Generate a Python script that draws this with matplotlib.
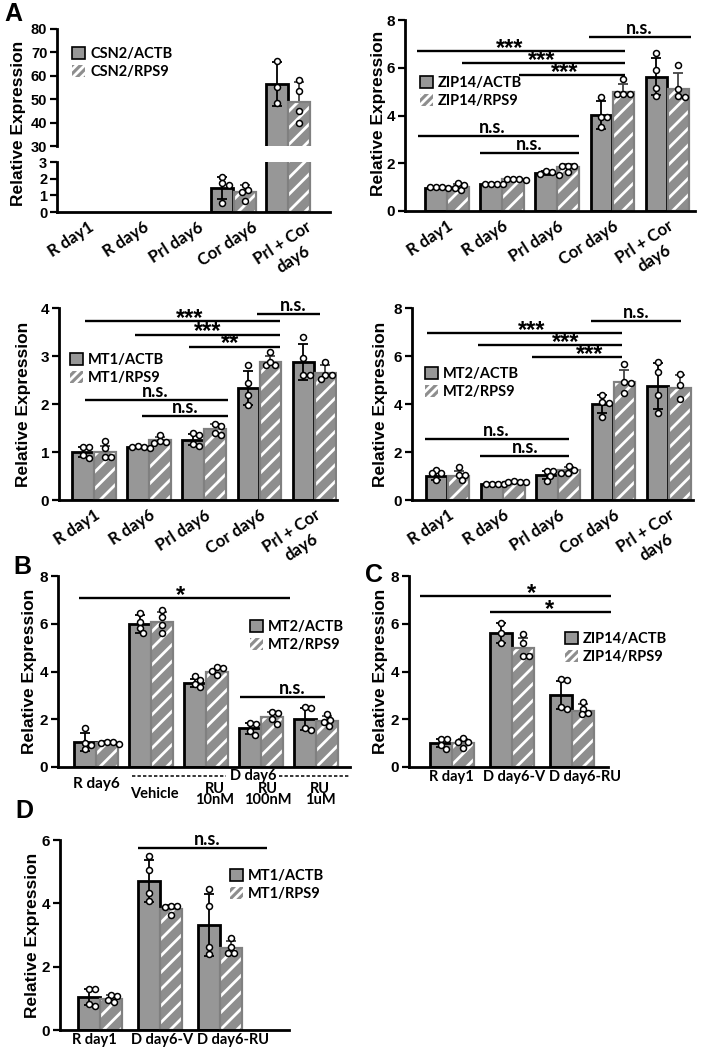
import numpy as np
import matplotlib
matplotlib.use("Agg")
import matplotlib.pyplot as plt
from matplotlib.patches import Patch
from matplotlib.transforms import ScaledTranslation

# ======================= DATA =======================
A_categories = ["R day1", "R day6", "Prl day6", "Cor day6", "Prl + Cor\nday6"]

# Panel A1: CSN2
csn2_actb_mean = [0.0, 0.0, 0.0, 1.44, 56.5]
csn2_actb_sd = [0.0, 0.0, 0.0, 0.64, 9.3]
csn2_actb_pts = [[], [], [], [2.10, 1.74, 1.62, 0.55], [66.4, 55.3, 48.2]]
csn2_rps9_mean = [0.0, 0.0, 0.0, 1.20, 49.0]
csn2_rps9_sd = [0.0, 0.0, 0.0, 0.45, 8.5]
csn2_rps9_pts = [[], [], [], [1.62, 1.32, 1.20, 0.66], [58.2, 53.6, 45.1, 39.7]]

# Panel A2: ZIP14
zip14_actb_mean = [0.98, 1.13, 1.58, 4.02, 5.62]
zip14_actb_sd = [0.03, 0.03, 0.08, 0.58, 0.77]
zip14_actb_pts = [[1.00, 0.98, 1.00, 0.99], [1.14, 1.12, 1.13, 1.15],
                  [1.68, 1.56, 1.62, 1.50], [4.78, 3.95, 3.95, 3.53],
                  [6.60, 5.90, 5.17, 4.81]]
zip14_rps9_mean = [1.00, 1.32, 1.84, 4.99, 5.13]
zip14_rps9_sd = [0.13, 0.04, 0.12, 0.32, 0.67]
zip14_rps9_pts = [[0.88, 1.09, 1.19, 0.98], [1.28, 1.33, 1.35, 1.36],
                  [1.90, 1.90, 1.90, 1.65], [5.51, 4.90, 4.90, 4.92],
                  [6.11, 5.09, 4.81, 4.76]]

# Panel A3: MT1
mt1_actb_mean = [1.00, 1.10, 1.26, 2.33, 2.88]
mt1_actb_sd = [0.10, 0.02, 0.12, 0.35, 0.37]
mt1_actb_pts = [[1.10, 1.10, 0.93, 0.88], [1.11, 1.12, 1.10, 1.09],
                [1.39, 1.36, 1.17, 1.12], [2.81, 2.43, 2.19, 1.98],
                [3.40, 2.95, 2.60, 2.60]]
mt1_rps9_mean = [1.00, 1.24, 1.47, 2.87, 2.64]
mt1_rps9_sd = [0.13, 0.08, 0.11, 0.12, 0.17]
mt1_rps9_pts = [[1.22, 1.08, 0.89, 0.89], [1.35, 1.22, 1.20, 1.18],
                [1.58, 1.55, 1.40, 1.35], [3.09, 2.81, 2.81, 2.88],
                [2.88, 2.60, 2.60, 2.53]]

# Panel A4: MT2
mt2_actb_mean = [1.00, 0.67, 1.05, 3.99, 4.76]
mt2_actb_sd = [0.17, 0.02, 0.16, 0.38, 0.95]
mt2_actb_pts = [[1.25, 1.11, 1.11, 0.83], [0.68, 0.67, 0.66, 0.67],
                [1.22, 1.20, 1.00, 0.80], [4.38, 4.10, 4.03, 3.47],
                [5.76, 5.35, 4.38, 3.61]]
mt2_rps9_mean = [1.00, 0.76, 1.25, 4.93, 4.65]
mt2_rps9_sd = [0.20, 0.04, 0.13, 0.50, 0.55]
mt2_rps9_pts = [[1.36, 1.04, 1.04, 0.83], [0.74, 0.76, 0.78, 0.77],
                [1.42, 1.25, 1.14, 1.11], [5.67, 4.93, 4.86, 4.47],
                [5.24, 4.79, 4.19]]

# Panel B: MT2 with RU486
B_categories = ["R day6", "Vehicle", "RU\n10nM", "RU\n100nM", "RU\n1uM"]
B_group_label = "D day6"
b_actb_mean = [1.06, 5.98, 3.53, 1.62, 2.01]
b_actb_sd = [0.38, 0.38, 0.17, 0.22, 0.45]
b_actb_pts = [[1.62, 0.99, 0.92, 0.74], [6.47, 6.09, 5.81, 5.60],
              [3.81, 3.65, 3.48, 3.34], [1.85, 1.80, 1.50, 1.33],
              [2.49, 2.50, 1.55, 1.62]]
b_rps9_mean = [1.02, 6.09, 3.99, 2.08, 1.93]
b_rps9_sd = [0.05, 0.40, 0.13, 0.22, 0.22]
b_rps9_pts = [[0.97, 1.04, 1.03, 1.02], [6.58, 6.27, 5.95, 5.63],
              [4.20, 4.13, 4.04, 3.85], [2.30, 2.25, 2.00, 1.80],
              [2.20, 1.98, 1.90, 1.72]]

# Panel C: ZIP14
CD_categories = ["R day1", "D day6-V", "D day6-RU"]
c_actb_mean = [0.99, 5.63, 3.02]
c_actb_sd = [0.17, 0.42, 0.60]
c_actb_pts = [[1.16, 1.16, 0.92, 0.74], [6.05, 5.60, 5.21], [3.70, 3.65, 2.50, 2.45]]
c_rps9_mean = [0.99, 4.97, 2.36]
c_rps9_sd = [0.17, 0.45, 0.28]
c_rps9_pts = [[1.23, 1.06, 1.06, 0.78], [5.57, 5.21, 4.65, 4.65], [2.72, 2.45, 2.28, 2.20]]

# Panel D: MT1
d_actb_mean = [1.03, 4.71, 3.32]
d_actb_sd = [0.25, 0.66, 0.98]
d_actb_pts = [[1.28, 1.28, 0.76, 0.82], [5.49, 5.05, 4.32, 4.08], [4.44, 3.92, 2.63, 2.40]]
d_rps9_mean = [0.98, 3.81, 2.58]
d_rps9_sd = [0.12, 0.13, 0.22]
d_rps9_pts = [[1.12, 1.08, 0.95, 0.88], [3.92, 3.92, 3.89, 3.63], [2.89, 2.61, 2.44, 2.44]]

# significance brackets: (x start, x end, y, label, text x)
sig_A2 = [(2.58, 4.43, 7.28, "n.s.", 3.48), (-0.54, 3.23, 6.69, "***", 1.14),
          (0.27, 3.23, 6.19, "***", 1.72), (1.31, 3.23, 5.69, "***", 2.14),
          (-0.53, 2.40, 3.14, "n.s.", 0.82), (0.60, 2.40, 2.43, "n.s.", 1.49)]
sig_A3 = [(2.96, 4.10, 3.875, "n.s.", 3.61), (-0.16, 3.38, 3.73, "***", 1.74),
          (0.74, 3.38, 3.44, "***", 2.07), (1.72, 3.38, 3.19, "**", 2.47),
          (-0.16, 2.43, 2.08, "n.s.", 1.11), (0.87, 2.43, 1.75, "n.s.", 1.65)]
sig_A4 = [(2.59, 4.22, 7.46, "n.s.", 3.41), (-0.37, 3.15, 6.96, "***", 1.53),
          (0.55, 3.15, 6.46, "***", 2.13), (1.53, 3.15, 5.96, "***", 2.57),
          (-0.41, 2.20, 2.54, "n.s.", 0.88), (0.59, 2.20, 1.83, "n.s.", 1.41)]
sig_B = [(-0.31, 3.53, 7.07, "*", 1.53), (2.62, 4.16, 2.93, "n.s.", 3.56)]
sig_C = [(-0.53, 2.65, 7.15, "*", 1.33), (0.63, 2.65, 6.49, "*", 1.63)]
sig_D = [(0.63, 2.78, 5.75, "n.s.", 1.78)]

# ======================= STYLE =======================
plt.rcParams['font.family'] = ['Liberation Sans', 'DejaVu Sans']
plt.rcParams['font.weight'] = 'bold'
plt.rcParams['hatch.linewidth'] = 2.0
ACTB_FACE = '#979797'
RPS9_FACE = '#8e8e8e'
RPS9_EDGE = '#808080'
LAT = ['Lato', 'DejaVu Sans']

W, H = 704, 1050
fig = plt.figure(figsize=(W / 100, H / 100), dpi=100)
fig.patch.set_facecolor('white')


def px_axes(left, right, top, bottom):
    return fig.add_axes([left / W, 1 - bottom / H, (right - left) / W, (bottom - top) / H])


def style_axes(ax, xlim, ylim, yticks, show_bottom=True, ysize=11):
    ax.set_xlim(*xlim)
    ax.set_ylim(*ylim)
    ax.set_yticks(yticks)
    ax.spines['top'].set_visible(False)
    ax.spines['right'].set_visible(False)
    ax.spines['left'].set_linewidth(2.0)
    ax.spines['bottom'].set_linewidth(2.0)
    if not show_bottom:
        ax.spines['bottom'].set_visible(False)
    ax.tick_params(axis='y', direction='out', length=5, width=1.6, pad=2, labelsize=ysize)
    ax.tick_params(axis='x', length=0)
    ax.patch.set_alpha(0)


def swarm_x(ax, xc, vals, diam=6.2):
    if len(vals) == 0:
        return []
    tr = ax.transData
    xp = tr.transform((xc, 0))[0]
    ys = [tr.transform((xc, v))[1] for v in vals]
    cands = sorted(np.arange(-4, 4.01, 0.25) * diam, key=lambda c: (abs(c), -c))
    placed = []
    res = [0.0] * len(vals)
    for i in sorted(range(len(vals)), key=lambda k: -vals[k]):
        for c in cands:
            if all((c - a) ** 2 + (ys[i] - b) ** 2 >= (0.92 * diam) ** 2 for a, b in placed):
                placed.append((c, ys[i]))
                res[i] = c
                break
    inv = tr.inverted()
    return [inv.transform((xp + r, 0))[0] for r in res]


def draw_series(ax, centers, off, width, means, sds, pts, kind):
    for i, (m, sd, p) in enumerate(zip(means, sds, pts)):
        if m <= 0:
            continue
        x = centers[i] + off
        if kind == 'actb':
            ax.bar(x, m, width, color=ACTB_FACE, edgecolor='black', linewidth=2.0, zorder=2)
            ax.errorbar(x, m, yerr=sd, fmt='none', ecolor='black', elinewidth=1.3,
                        capsize=3.6, capthick=1.3, zorder=3)
        else:
            ax.errorbar(x, m, yerr=sd, fmt='none', ecolor='#444444', elinewidth=1.3,
                        capsize=3.6, capthick=1.3, zorder=1.5)
            ax.bar(x, m, width, color=RPS9_FACE, edgecolor='white', linewidth=0, hatch='//', zorder=2)
            ax.bar(x, m, width, color='none', edgecolor=RPS9_EDGE, linewidth=1.6, zorder=2.1)
        xs = swarm_x(ax, x, p)
        ax.plot(xs, p, linestyle='none', marker='o', markersize=4.3, markerfacecolor='white',
                markeredgecolor='black', markeredgewidth=1.1, zorder=5)


def draw_group(ax, cats_n, width, off, a_mean, a_sd, a_pts, r_mean, r_sd, r_pts):
    centers = np.arange(cats_n)
    draw_series(ax, centers, -off, width, a_mean, a_sd, a_pts, 'actb')
    draw_series(ax, centers, off, width, r_mean, r_sd, r_pts, 'rps9')
    return centers


def draw_sig(ax, sigs):
    for x0, x1, y, label, tx in sigs:
        ax.plot([x0, x1], [y, y], color='black', lw=1.7, solid_capstyle='butt',
                clip_on=False, zorder=4)
        if label.startswith('*'):
            ax.annotate(label, (tx, y), xytext=(0, -2.6), textcoords='offset points',
                        ha='center', va='baseline', fontsize=17, fontweight='bold',
                        annotation_clip=False)
        else:
            ax.annotate(label, (tx, y), xytext=(0, 2), textcoords='offset points',
                        ha='center', va='baseline', fontsize=13, fontweight='bold',
                        family=LAT, annotation_clip=False)


def add_legend(ax, labels, x_px, y_px):
    h = [Patch(facecolor=ACTB_FACE, edgecolor='black', linewidth=1.2),
         Patch(facecolor=RPS9_FACE, edgecolor='white', linewidth=0.0, hatch='////')]
    ax.legend(h, labels, loc='upper left', bbox_to_anchor=(x_px / W, 1 - y_px / H),
              bbox_transform=fig.transFigure, frameon=False, borderpad=0, borderaxespad=0,
              handlelength=0.9, handleheight=0.9, handletextpad=0.35, labelspacing=0.25,
              prop=dict(family=LAT, weight='bold', size=10.5))


def rotated_xlabels(ax, centers, cats, dx_px=0):
    ax.set_xticks(centers)
    ax.set_xticklabels(cats, rotation=33, ha='right', va='top', rotation_mode='anchor',
                       multialignment='center', family=LAT, fontweight='bold', fontsize=12)
    ax.tick_params(axis='x', pad=5)
    if dx_px:
        for lab in ax.get_xticklabels():
            lab.set_transform(lab.get_transform() + ScaledTranslation(dx_px / 100, 0, fig.dpi_scale_trans))


def flat_xlabels(ax, centers, cats, dxs):
    ax.set_xticks(centers)
    ax.set_xticklabels(cats, family=LAT, fontweight='bold', fontsize=10.5)
    ax.tick_params(axis='x', pad=2)
    for lab, dx in zip(ax.get_xticklabels(), dxs):
        lab.set_transform(lab.get_transform() + ScaledTranslation(dx / 100, 0, fig.dpi_scale_trans))


def ylabel(x_px, y_px):
    fig.text(x_px / W, 1 - y_px / H, "Relative Expression", rotation=90, ha='center',
             va='center', fontsize=12.5, fontweight='bold')


def panel_letter(t, x_px, y_px):
    fig.text(x_px / W, 1 - y_px / H, t, ha='center', va='center', fontsize=18, fontweight='bold')


# ======================= PANEL A1 (broken axis) =======================
a1_xlim = ((57 - 70) / 54.5, (330 - 70) / 54.5)
ax1t = px_axes(57, 330, 29, 146)
ax1b = px_axes(57, 330, 162, 212)
style_axes(ax1t, a1_xlim, (30, 80), [30, 40, 50, 60, 70, 80], show_bottom=False, ysize=10.5)
style_axes(ax1b, a1_xlim, (0, 3), [0, 1, 2, 3], ysize=10.5)
ax1t.set_xticks([])
for ax in (ax1t, ax1b):
    c = draw_group(ax, 5, 0.40, 0.205, csn2_actb_mean, csn2_actb_sd, csn2_actb_pts,
                   csn2_rps9_mean, csn2_rps9_sd, csn2_rps9_pts)
rotated_xlabels(ax1b, c, A_categories, dx_px=18)
add_legend(ax1t, ["CSN2/ACTB", "CSN2/RPS9"], 72, 47)
ylabel(19, 123)

# ======================= PANEL A2 =======================
ax2 = px_axes(405, 695, 20, 211)
style_axes(ax2, ((405 - 447) / 55.1, (695 - 447) / 55.1), (0, 8), [0, 2, 4, 6, 8])
c = draw_group(ax2, 5, 0.39, 0.2, zip14_actb_mean, zip14_actb_sd, zip14_actb_pts,
               zip14_rps9_mean, zip14_rps9_sd, zip14_rps9_pts)
rotated_xlabels(ax2, c, A_categories)
draw_sig(ax2, sig_A2)
add_legend(ax2, ["ZIP14/ACTB", "ZIP14/RPS9"], 420, 76)
ylabel(378, 113)

# ======================= PANEL A3 =======================
ax3 = px_axes(59, 337, 308, 500)
style_axes(ax3, ((59 - 94) / 55.1, (337 - 94) / 55.1), (0, 4), [0, 1, 2, 3, 4])
c = draw_group(ax3, 5, 0.39, 0.2, mt1_actb_mean, mt1_actb_sd, mt1_actb_pts,
               mt1_rps9_mean, mt1_rps9_sd, mt1_rps9_pts)
rotated_xlabels(ax3, c, A_categories)
draw_sig(ax3, sig_A3)
add_legend(ax3, ["MT1/ACTB", "MT1/RPS9"], 70, 353)
ylabel(24, 404)

# ======================= PANEL A4 =======================
ax4 = px_axes(412, 693, 308, 500)
style_axes(ax4, ((412 - 447.5) / 55.3, (693 - 447.5) / 55.3), (0, 8), [0, 2, 4, 6, 8])
c = draw_group(ax4, 5, 0.39, 0.2, mt2_actb_mean, mt2_actb_sd, mt2_actb_pts,
               mt2_rps9_mean, mt2_rps9_sd, mt2_rps9_pts)
rotated_xlabels(ax4, c, A_categories)
draw_sig(ax4, sig_A4)
add_legend(ax4, ["MT2/ACTB", "MT2/RPS9"], 425, 367)
ylabel(380, 404)

# ======================= PANEL B =======================
axB = px_axes(58, 350, 576, 767)
style_axes(axB, ((58 - 96) / 55.0, (350 - 96) / 55.0), (0, 8), [0, 2, 4, 6, 8])
c = draw_group(axB, 5, 0.39, 0.2, b_actb_mean, b_actb_sd, b_actb_pts,
               b_rps9_mean, b_rps9_sd, b_rps9_pts)
axB.set_xticks([])
draw_sig(axB, sig_B)
add_legend(axB, ["MT2/ACTB", "MT2/RPS9"], 250, 620)
ylabel(30, 671)
bt = axB.get_xaxis_transform()
axB.text(c[0], -0.088, B_categories[0], transform=bt, ha='center', va='center',
         family=LAT, fontweight='bold', fontsize=11)
b_label_dx = [0, 0.06, 0.16, 0.12, 0.07]
for i in range(1, 5):
    axB.text(c[i] + b_label_dx[i], -0.143, B_categories[i], transform=bt, ha='center', va='center',
             family=LAT, fontweight='bold', fontsize=10.5, linespacing=0.72)
axB.text(2.85, -0.045, B_group_label, transform=bt, ha='center', va='center',
         family=LAT, fontweight='bold', fontsize=10.5)
for xa, xb in ((0.65, 2.37), (3.33, 4.62)):
    axB.plot([xa, xb], [-0.046, -0.046], transform=bt, color='black', lw=1.1,
             linestyle=(0, (2.2, 1.4)), clip_on=False)

# ======================= PANEL C =======================
axC = px_axes(409, 608, 576, 767)
style_axes(axC, ((409 - 452) / 60.0, (608 - 452) / 60.0), (0, 8), [0, 2, 4, 6, 8])
c = draw_group(axC, 3, 0.36, 0.185, c_actb_mean, c_actb_sd, c_actb_pts,
               c_rps9_mean, c_rps9_sd, c_rps9_pts)
flat_xlabels(axC, c, CD_categories, [-1, 2, 13])
draw_sig(axC, sig_C)
add_legend(axC, ["ZIP14/ACTB", "ZIP14/RPS9"], 565, 632)
ylabel(381, 671)

# ======================= PANEL D =======================
axD = px_axes(60, 289, 840, 1030)
style_axes(axD, ((60 - 100) / 60.0, (289 - 100) / 60.0), (0, 6), [0, 2, 4, 6])
c = draw_group(axD, 3, 0.36, 0.185, d_actb_mean, d_actb_sd, d_actb_pts,
               d_rps9_mean, d_rps9_sd, d_rps9_pts)
flat_xlabels(axD, c, CD_categories, [-6, 2, 13])
draw_sig(axD, sig_D)
add_legend(axD, ["MT1/ACTB", "MT1/RPS9"], 230, 869)
ylabel(33, 935)

panel_letter("A", 13, 14)
panel_letter("B", 22, 567)
panel_letter("C", 374, 575)
panel_letter("D", 24, 811)

fig.savefig("out.png", dpi=100, facecolor='white')
